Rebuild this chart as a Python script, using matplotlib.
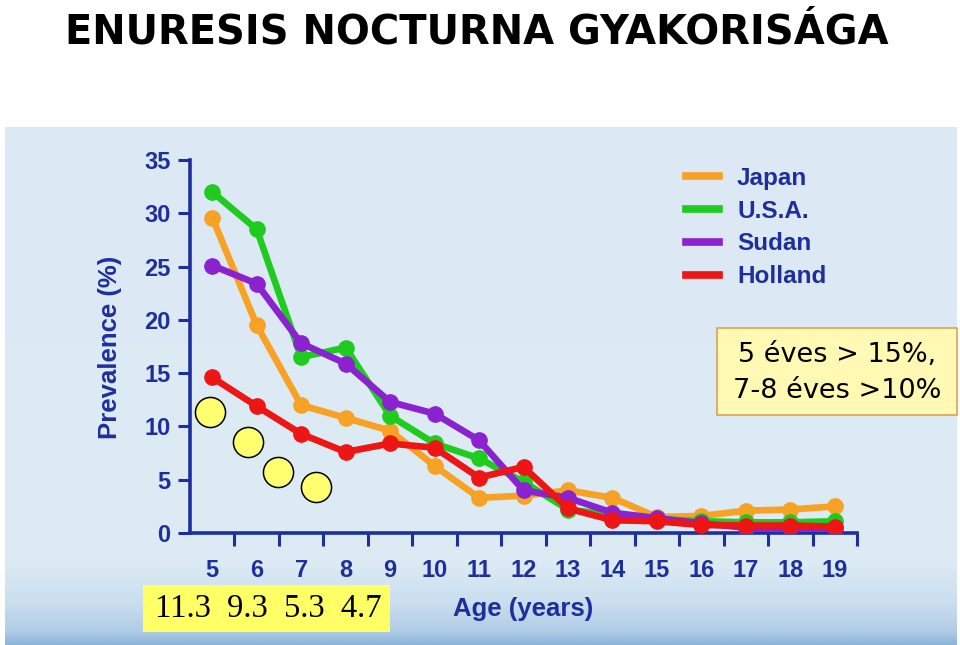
import numpy as np
import matplotlib
matplotlib.use("Agg")
import matplotlib.pyplot as plt
from matplotlib.patches import Rectangle
from matplotlib.lines import Line2D
from matplotlib.colors import LinearSegmentedColormap

# ---------------- data ----------------
ages = [5, 6, 7, 8, 9, 10, 11, 12, 13, 14, 15, 16, 17, 18, 19]
japan = [29.6, 19.5, 12.0, 10.8, 9.6, 6.3, 3.3, 3.5, 4.0, 3.3, 1.5, 1.6, 2.1, 2.2, 2.5]
usa = [32.0, 28.5, 16.5, 17.4, 11.0, 8.4, 7.0, 4.8, 2.2, 1.7, 1.3, 1.1, 1.0, 1.0, 1.1]
sudan = [25.1, 23.4, 17.8, 15.9, 12.3, 11.2, 8.7, 4.0, 3.3, 1.9, 1.4, 0.9, 0.5, 0.5, 0.5]
holland = [14.6, 11.9, 9.3, 7.6, 8.4, 8.0, 5.2, 6.2, 2.3, 1.2, 1.1, 0.75, 0.7, 0.7, 0.6]
series_names = ["Japan", "U.S.A.", "Sudan", "Holland"]
series_colors = ["#F7A125", "#1FCB1F", "#8A22D0", "#EE1515"]

yellow_x = [4.95, 5.8, 6.47, 7.33]
yellow_y = [11.35, 8.5, 5.7, 4.3]
yellow_values = ["11.3", "9.3", "5.3", "4.7"]

title = "ENURESIS NOCTURNA GYAKORISÁGA"
note_lines = ["5 éves > 15%,", "7-8 éves >10%"]
yticks = [0, 5, 10, 15, 20, 25, 30, 35]

W, H = 960, 645
fig = plt.figure(figsize=(9.6, 6.45), dpi=100)
fig.patch.set_facecolor("white")

def fx(px):
    return px / W

def fy(py):
    return 1 - py / H

# background panel with gradient
bg = fig.add_axes([fx(5), 0, fx(957) - fx(5), fy(127)])
bg.set_axis_off()
cmap = LinearSegmentedColormap.from_list(
    "bgc",
    [(0.0, "#DCE9F4"), (0.84, "#DDEBF5"), (0.92, "#CADEEE"), (0.975, "#B0CDE6"), (1.0, "#8DB4D9")],
)
grad = np.linspace(0, 1, 256).reshape(-1, 1)
bg.imshow(grad, aspect="auto", cmap=cmap, extent=[0, 1, 0, 1], origin="upper")
bg.set_xlim(0, 1)
bg.set_ylim(0, 1)

# main axes
ax = fig.add_axes([fx(190), fy(533), fx(857) - fx(190), fy(160) - fy(533)])
ax.patch.set_alpha(0)
axis_color = "#1E2F9C"
for (name, vals, col) in zip(series_names, [japan, usa, sudan, holland], series_colors):
    ax.plot(ages, vals, color=col, lw=4.8, marker="o", ms=11, label=name,
            solid_capstyle="round", zorder=3)

ax.scatter(yellow_x, yellow_y, s=470, facecolor="#FFFF70", edgecolor="black",
           linewidths=1.1, zorder=4, clip_on=False)

ax.set_xlim(4.5, 19.5)
ax.set_ylim(0, 35)
for s in ["top", "right"]:
    ax.spines[s].set_visible(False)
for s in ["left", "bottom"]:
    ax.spines[s].set_color(axis_color)
    ax.spines[s].set_linewidth(2.6)

ax.set_xticks(ages)
ax.set_xticks(np.arange(5.5, 20, 1.0), minor=True)
ax.tick_params(axis="x", which="major", length=0, pad=19, labelsize=17,
               labelcolor=axis_color)
ax.tick_params(axis="x", which="minor", length=9, width=2.2, color=axis_color,
               direction="out")
ax.set_yticks(yticks)
ax.tick_params(axis="y", length=9, width=2.2, color=axis_color, pad=5,
               labelsize=17, labelcolor=axis_color)
for lab in ax.get_xticklabels() + ax.get_yticklabels():
    lab.set_fontfamily("Liberation Sans")
    lab.set_fontweight("bold")

fig.text(fx(110), fy(347), "Prevalence (%)", rotation=90, ha="center", va="center",
         fontsize=18.5, fontweight="bold", color=axis_color, family="Liberation Sans")
fig.text(fx(523), fy(609), "Age (years)", ha="center", va="center",
         fontsize=18.5, fontweight="bold", color=axis_color, family="Liberation Sans")

# legend
handles = [Line2D([0], [0], color=c, lw=5.5) for c in series_colors]
leg = fig.legend(handles, series_names, loc="upper left",
                 bbox_to_anchor=(fx(686), fy(167)), frameon=False,
                 handlelength=1.35, handletextpad=0.75, labelspacing=0.4,
                 borderpad=0, borderaxespad=0,
                 prop={"family": "Liberation Sans", "weight": "bold", "size": 17.5})
for t in leg.get_texts():
    t.set_color(axis_color)

# title
fig.text(fx(477), fy(32), title, ha="center", va="center", fontsize=28.8,
         fontweight="bold", color="black", family="DejaVu Sans")

# note box
fig.patches.append(Rectangle((fx(717), fy(415)), fx(957) - fx(717), fy(328) - fy(415),
                             transform=fig.transFigure, facecolor="#FFF9B3",
                             edgecolor="#E0A050", lw=1.2, zorder=5))
fig.text(fx(837), fy(355), note_lines[0], ha="center", va="center", fontsize=19.5,
         color="black", family="DejaVu Sans", zorder=6)
fig.text(fx(837), fy(391), note_lines[1], ha="center", va="center", fontsize=19.5,
         color="black", family="DejaVu Sans", zorder=6)

# bottom value box
fig.patches.append(Rectangle((fx(143), fy(632)), fx(390) - fx(143), fy(585) - fy(632),
                             transform=fig.transFigure, facecolor="#FFFF66",
                             edgecolor="none", zorder=5))
fig.text(fx(268), fy(609), "  ".join(yellow_values),
         ha="center", va="center", fontsize=23.5, color="black",
         family="Liberation Serif", zorder=6)

fig.savefig("out.png", dpi=100, facecolor="white")
